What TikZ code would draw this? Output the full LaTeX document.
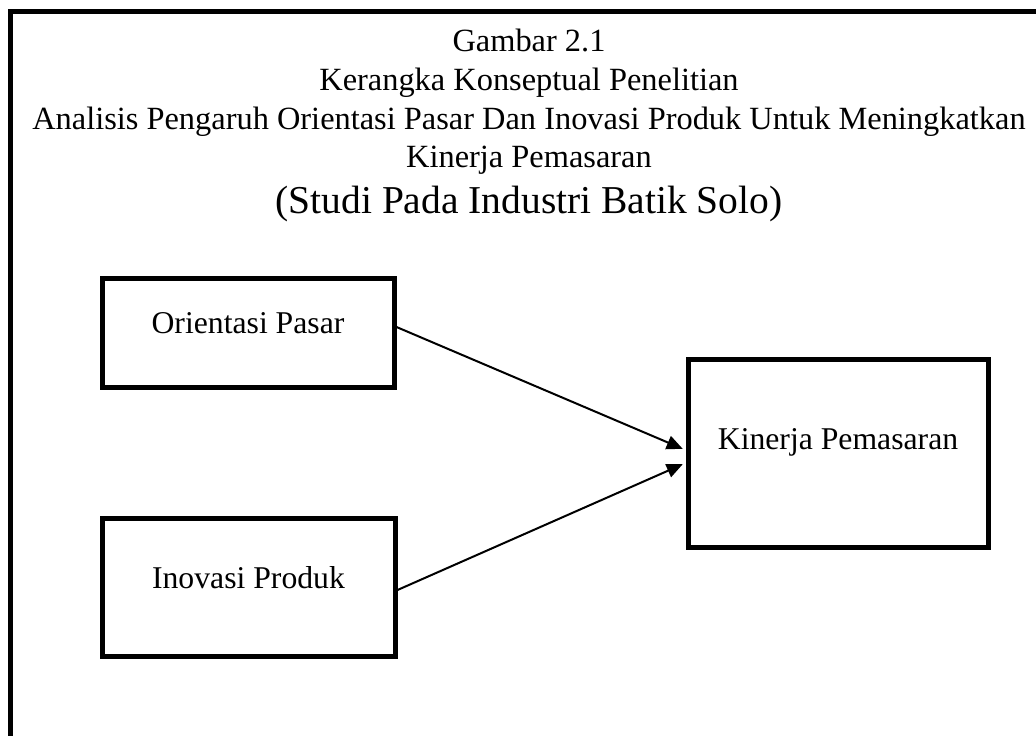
\documentclass[tikz,border=0pt]{standalone}
\usepackage{fontspec}
\setmainfont{Liberation Serif}
\usetikzlibrary{arrows.meta}
\tikzset{
  flow/.style={-{Triangle[length=16pt,width=14pt]},line width=2pt},
  frameline/.style={line width=5pt},
  varbox/.style={draw,line width=5pt,inner sep=0pt,text height=22pt,
    font=\fontsize{31.7}{38}\selectfont},
  titletext/.style={anchor=base,inner sep=0pt,font=\fontsize{32.4}{38}\selectfont}
}

\begin{document}
\begin{tikzpicture}[x=1pt,y=-1pt]
  \useasboundingbox (0,0) rectangle (1036,736);
  % frame, open at right and bottom
  \draw[frameline] (1045,11) -- (10.8,11) -- (10.8,745);

  % title
  \node[titletext] (gambar) at (529,51.7) {Gambar 2.1};
  \node[titletext] (judul) at (529,90) {Kerangka Konseptual Penelitian};
  \node[titletext] (analisis) at (529,129) {Analisis Pengaruh Orientasi Pasar Dan Inovasi Produk Untuk Meningkatkan};
  \node[titletext] (kinerjat) at (529,167.5) {Kinerja Pemasaran};
  \node[titletext,font=\fontsize{39.5}{46}\selectfont] (studi) at (529,213) {(Studi Pada Industri Batik Solo)};

  % variables
  \node[varbox,minimum width=292pt,minimum height=109pt,text depth=21pt] (orient) at (248,332.5) {Orientasi Pasar};
  \node[varbox,minimum width=293pt,minimum height=138pt,text depth=19pt] (inovasi) at (248.5,587) {Inovasi Produk};
  \node[varbox,minimum width=300pt,minimum height=188pt,text depth=29pt] (kinerja) at (838,453) {Kinerja Pemasaran};

  \draw[flow,shorten >=3pt] ([yshift=5.5pt]orient.east) -- ([yshift=3pt]kinerja.west);
  \draw[flow,shorten >=3pt] ([yshift=-3pt]inovasi.east) -- ([yshift=-10pt]kinerja.west);
\end{tikzpicture}
\end{document}
